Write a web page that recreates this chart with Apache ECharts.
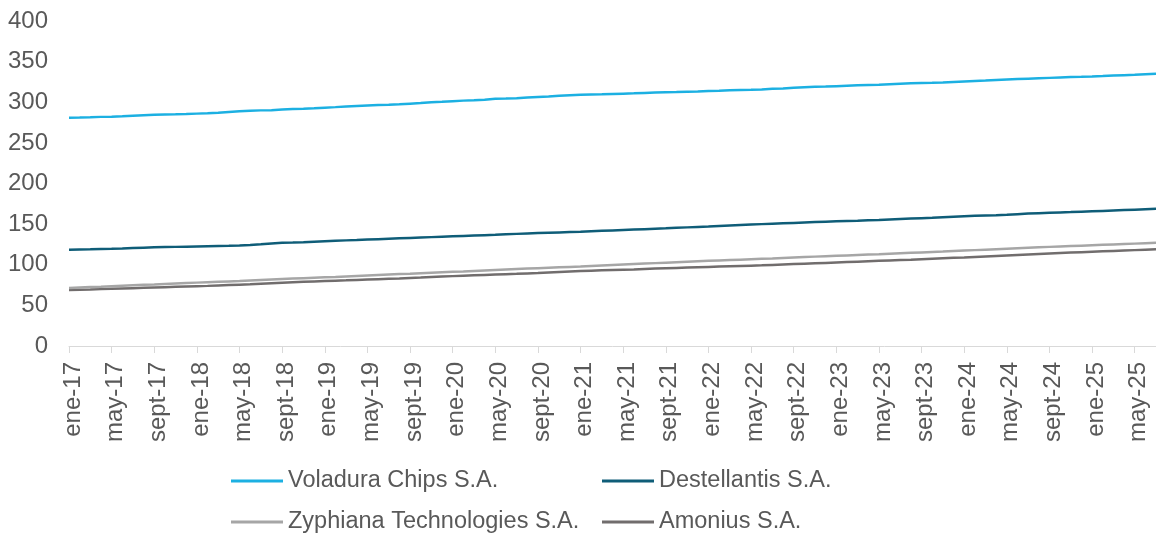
<!DOCTYPE html>
<html>
<head>
<meta charset="utf-8">
<script src="https://cdn.jsdelivr.net/npm/echarts@6/dist/echarts.min.js"></script>
<style>
  html, body { margin: 0; padding: 0; background: #fff; }
  #mainChart { width: 1156px; height: 535px; }
</style>
</head>
<body>
<div id="mainChart"></div>
<script>
// meses en formato de Excel (es)
var monthNames = ["ene", "feb", "mar", "abr", "may", "jun", "jul", "ago", "sept", "oct", "nov", "dic"];
var years = ["17", "18", "19", "20", "21", "22", "23", "24", "25"];
var lastMonthOf2025 = 7; // hasta jul-25

var categories = [];
years.forEach(function (y, yi) {
    var n = (yi == years.length - 1) ? lastMonthOf2025 : 12;
    for (var m = 0; m < n; m++) {
        categories.push(monthNames[m] + "-" + y);
    }
});

var voladura = [
    281, 281.2, 281.5, 282, 282.3, 282.8, 283.4, 284, 284.5, 285, 285.2, 285.5,
    286, 286.5, 287.2, 288, 288.8, 289.5, 290, 290.3, 291, 291.6, 292, 292.5,
    293.3, 294, 294.8, 295.4, 296, 296.5, 297, 297.6, 298.3, 299, 300, 300.6,
    301.3, 302, 302.5, 303.2, 304.3, 304.5, 305, 305.8, 306.5, 307.2, 308, 308.6,
    309.2, 309.5, 309.8, 310.2, 310.6, 311, 311.5, 311.9, 312.2, 312.5, 312.9, 313.2,
    313.8, 314.2, 314.7, 315, 315.3, 315.8, 316.5, 317, 317.8, 318.5, 319, 319.3,
    319.8, 320.3, 320.8, 321.3, 321.6, 322.2, 322.8, 323.3, 323.6, 323.9, 324.4, 325,
    325.6, 326.2, 326.8, 327.5, 328, 328.5, 329, 329.5, 330, 330.5, 331, 331.3,
    331.7, 332.2, 332.8, 333.3, 333.8, 334.4, 335
];
var destellantis = [
    118.5, 118.8, 119, 119.3, 119.6, 120, 120.5, 121, 121.4, 121.8, 122, 122.3,
    122.6, 122.9, 123.1, 123.3, 123.6, 124.3, 125.2, 126.3, 127, 127.3, 127.8, 128.4,
    129, 129.5, 130, 130.4, 131, 131.5, 132, 132.5, 133, 133.5, 134, 134.5,
    135, 135.5, 136, 136.4, 136.8, 137.5, 138, 138.5, 139, 139.4, 139.8, 140.2,
    140.6, 141.2, 141.8, 142.3, 142.8, 143.3, 143.8, 144.3, 144.8, 145.4, 146, 146.5,
    147, 147.6, 148.2, 148.8, 149.4, 150, 150.5, 151, 151.5, 152, 152.5, 153,
    153.4, 153.8, 154.2, 154.7, 155.2, 155.8, 156.3, 156.8, 157.3, 157.8, 158.4, 159,
    159.6, 160.2, 160.6, 161, 161.6, 162.3, 163, 163.5, 164, 164.4, 164.8, 165.3,
    165.8, 166.3, 166.8, 167.3, 167.8, 168.3, 168.8
];
var zyphiana = [
    71.5, 72, 72.5, 73, 73.6, 74.2, 74.8, 75.3, 75.8, 76.4, 77, 77.5,
    78, 78.5, 79, 79.5, 80, 80.6, 81.2, 81.8, 82.4, 83, 83.5, 84,
    84.5, 85, 85.6, 86.2, 86.8, 87.4, 88, 88.5, 89, 89.6, 90.2, 90.8,
    91.3, 91.8, 92.4, 93, 93.6, 94.2, 94.8, 95.3, 95.8, 96.3, 96.8, 97.3,
    97.8, 98.4, 99, 99.6, 100.2, 100.8, 101.4, 102, 102.6, 103.2, 103.8, 104.3,
    104.8, 105.3, 105.8, 106.3, 106.8, 107.3, 107.8, 108.4, 109, 109.5, 110, 110.5,
    111, 111.5, 112, 112.5, 113, 113.6, 114.2, 114.7, 115.2, 115.7, 116.2, 116.8,
    117.4, 118, 118.6, 119.2, 119.8, 120.4, 121, 121.5, 122, 122.5, 123, 123.5,
    124, 124.5, 125, 125.5, 126, 126.5, 127
];
var amonius = [
    69, 69.3, 69.6, 70, 70.4, 70.8, 71.2, 71.6, 72, 72.4, 72.8, 73.2,
    73.6, 74, 74.5, 75, 75.5, 76, 76.6, 77.2, 77.8, 78.4, 79, 79.5,
    80, 80.4, 80.8, 81.3, 81.8, 82.3, 82.8, 83.2, 83.7, 84.2, 84.8, 85.4,
    86, 86.5, 87, 87.5, 88, 88.4, 88.8, 89.3, 89.8, 90.4, 91, 91.6,
    92.2, 92.7, 93.1, 93.5, 93.9, 94.3, 94.8, 95.3, 95.7, 96.1, 96.5, 96.9,
    97.3, 97.7, 98.1, 98.5, 98.9, 99.3, 99.8, 100.3, 100.8, 101.3, 101.8, 102.3,
    102.8, 103.3, 103.8, 104.3, 104.8, 105.3, 105.8, 106.3, 106.9, 107.5, 108, 108.5,
    109, 109.6, 110.2, 110.8, 111.4, 112, 112.6, 113.2, 113.8, 114.4, 115, 115.5,
    116, 116.5, 117, 117.5, 118, 118.5, 119
];

var seriesNames = ["Voladura Chips S.A.", "Destellantis S.A.", "Zyphiana Technologies S.A.", "Amonius S.A."];
var seriesData = [voladura, destellantis, zyphiana, amonius];
var colors = ["#1cb0e2", "#0f5d78", "#a6a6a6", "#716d6d"];

var fontFam = "'Liberation Sans', Arial, sans-serif";
var textColor = "#595959";

var chart = echarts.init(document.getElementById("mainChart"));

var legendBase = {
    orient: "vertical",
    top: 469,
    padding: 0,
    itemWidth: 52,
    itemHeight: 3,
    itemGap: 17,
    icon: "rect",
    textStyle: { color: textColor, fontSize: 23.5, fontFamily: fontFam }
};

chart.setOption({
    animation: false,
    color: colors,
    grid: { left: 69, right: 0, top: 21, bottom: 189, containLabel: false },
    legend: [
        Object.assign({}, legendBase, { left: 231, data: [seriesNames[0], seriesNames[2]] }),
        Object.assign({}, legendBase, { left: 602, data: [seriesNames[1], seriesNames[3]] })
    ],
    xAxis: {
        type: "category",
        data: categories,
        boundaryGap: false,
        axisLine: { lineStyle: { color: "#d9d9d9", width: 1 } },
        axisTick: { show: true, interval: 3, length: 7, lineStyle: { color: "#d9d9d9" } },
        axisLabel: {
            interval: 3,
            rotate: 90,
            margin: 16,
            verticalAlign: "top",
            lineHeight: 8,
            color: textColor,
            fontSize: 24,
            fontFamily: fontFam
        }
    },
    yAxis: {
        type: "value",
        min: 0,
        max: 400,
        interval: 50,
        axisLine: { show: false },
        axisTick: { show: false },
        splitLine: { show: false },
        axisLabel: { margin: 21, color: textColor, fontSize: 24, fontFamily: fontFam }
    },
    series: seriesData.map(function (d, i) {
        return {
            name: seriesNames[i],
            type: "line",
            data: d,
            symbol: "none",
            lineStyle: { width: 2.5 },
            z: 10 - i
        };
    })
});
</script>
</body>
</html>
